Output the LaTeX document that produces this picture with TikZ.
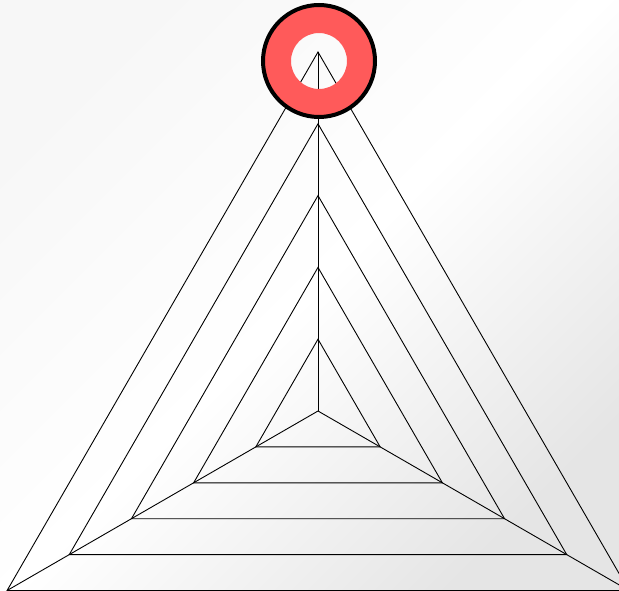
\documentclass[tikz,border=0pt]{standalone}
\usepackage{xcolor}
\usepackage{tikz}
\usetikzlibrary{calc}
\definecolor{ringred}{HTML}{FF5A5A}

\begin{document}
\begin{tikzpicture}[x=1pt, y=-1pt,
  edge/.style={draw=black, line width=0.9pt},
  ring/.style={fill=ringred, even odd rule},
  rim/.style={draw=black, line width=4pt}]
\useasboundingbox (0,0) rectangle (619,591);
\clip (0,0) rectangle (619,591);
\shade[shading=axis, top color=black!3, bottom color=black!10, middle color=white, shading angle=45] (0,0) rectangle (619,591);
% nested triangles round one centre
\coordinate (c) at (318,411);
\foreach \k in {1,...,5}{
  \coordinate (a\k) at ($(c)+(0,-71.8*\k)$);
  \coordinate (l\k) at ($(c)+(-62.18*\k,35.9*\k)$);
  \coordinate (r\k) at ($(c)+(62.18*\k,35.9*\k)$);
  \draw[edge] (a\k) -- (l\k) -- (r\k) -- cycle;
}
\draw[edge] (c) -- (a5);
\draw[edge] (c) -- (l5);
\draw[edge] (c) -- (r5);
% ring on the apex
\coordinate (o) at (319,61);
\fill[ring] (o) circle (56) (o) circle (28);
\draw[rim] (o) circle (56);
\end{tikzpicture}
\end{document}
